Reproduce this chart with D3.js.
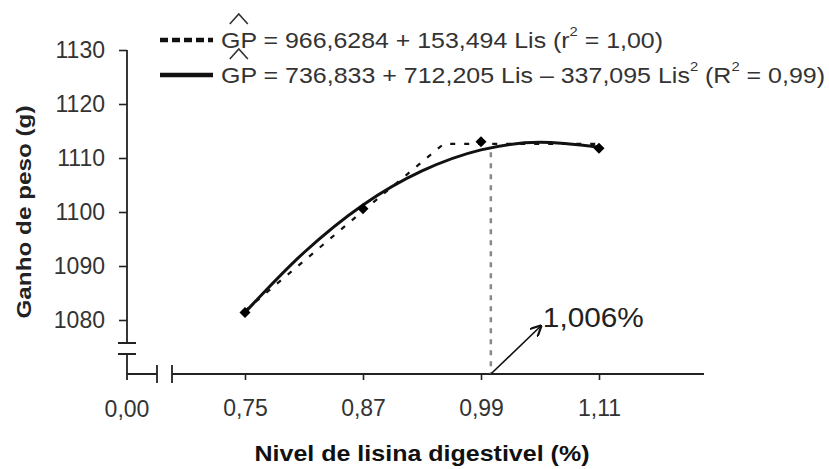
<!DOCTYPE html>
<html>
<head>
<meta charset="utf-8">
<script src="https://cdn.jsdelivr.net/npm/d3@7"></script>
<style>
  body { margin: 0; background: #fff; }
  svg { display: block; }
</style>
</head>
<body>
<svg id="chart" width="829" height="469"></svg>
<script>
// observed means
const lysineLevels = [0.75, 0.87, 0.99, 1.11]
const weightGain = [1081.4, 1100.6, 1113.0, 1111.8]

// fitted curves
const quadX = [0.75, 0.81, 0.87, 0.93, 0.99, 1.05, 1.11]
const quadY = [1081.4, 1092.5, 1101.3, 1107.6, 1111.5, 1112.9, 1112.0]
const lrpX = [0.75, 0.87, 0.952, 1.11]
const lrpY = [1081.7, 1100.2, 1112.6, 1112.6]

const yTicks = [1080, 1090, 1100, 1110, 1120, 1130]
const xTicks = [0.75, 0.87, 0.99, 1.11]
const optimumX = 1.0
const optimumLabel = "1,006%"

const font = "'Liberation Sans', Arial, sans-serif"
const svg = d3.select("#chart")

let x = d3.scaleLinear().domain([0.75, 1.11]).range([245, 599])
let y = d3.scaleLinear().domain([1080, 1130]).range([320, 50])
let x0 = 127, yBase = 374
let commaFmt = d => d3.format(".2f")(d).replace(".", ",")

// ---- y axis
let yAxis = svg.append("g")
  .attr("transform", `translate(${x0},0)`)
  .call(d3.axisLeft(y).tickValues(yTicks).tickSize(8).tickSizeOuter(0).tickFormat(d3.format("d")))
yAxis.select(".domain").remove()
yAxis.selectAll("line").attr("stroke", "#222").attr("stroke-width", 1.6)
yAxis.selectAll("text")
  .attr("x", -22)
  .attr("font-family", font).attr("font-size", 23).attr("fill", "#333")

let axisStroke = g => g.attr("stroke", "#222").attr("stroke-width", 1.8).attr("fill", "none")
let brk1 = y(1080) + 23, brk2 = y(1080) + 34
svg.append("path").call(axisStroke)
  .attr("d", `M${x0},${y(1130)}V${brk1}M${x0 - 9},${brk1}H${x0 + 9}M${x0 - 9},${brk2}H${x0 + 9}M${x0},${brk2}V${yBase}`)

// ---- x axis
let xAxis = svg.append("g")
  .attr("transform", `translate(0,${yBase})`)
  .call(d3.axisBottom(x).tickValues(xTicks).tickSize(6).tickSizeOuter(0).tickFormat(commaFmt))
xAxis.select(".domain").remove()
xAxis.selectAll("line").attr("stroke", "#222").attr("stroke-width", 1.6)
xAxis.selectAll("text")
  .attr("y", 26)
  .attr("font-family", font).attr("font-size", 23).attr("fill", "#333")

svg.append("path").call(axisStroke)
  .attr("d", `M${x0},${yBase}H157M157,${yBase - 9}V${yBase + 9}M172,${yBase - 9}V${yBase + 9}M172,${yBase}H704M${x0},${yBase}V${yBase + 6}`)
svg.append("text")
  .attr("x", x0).attr("y", yBase + 26 + 17)
  .attr("text-anchor", "middle")
  .attr("font-family", font).attr("font-size", 23).attr("fill", "#333")
  .text(commaFmt(0))

// ---- axis titles
svg.append("text")
  .attr("transform", "translate(31,212) rotate(-90)")
  .attr("text-anchor", "middle")
  .attr("font-family", font).attr("font-size", 21).attr("font-weight", "bold").attr("fill", "#222")
  .attr("textLength", 213).attr("lengthAdjust", "spacingAndGlyphs")
  .text("Ganho de peso (g)")

svg.append("text")
  .attr("x", 422).attr("y", 461)
  .attr("text-anchor", "middle")
  .attr("font-family", font).attr("font-size", 22).attr("font-weight", "bold").attr("fill", "#111")
  .attr("textLength", 335).attr("lengthAdjust", "spacingAndGlyphs")
  .text("Nivel de lisina digestivel (%)")

// ---- optimum marker
svg.append("line")
  .attr("x1", x(optimumX)).attr("x2", x(optimumX))
  .attr("y1", y(1112) + 5).attr("y2", yBase)
  .attr("stroke", "#888").attr("stroke-width", 2.5).attr("stroke-dasharray", "5,6")

svg.append("defs").append("marker")
  .attr("id", "arrow").attr("viewBox", "0 0 10 10").attr("refX", 9).attr("refY", 5)
  .attr("markerWidth", 7).attr("markerHeight", 7).attr("orient", "auto")
  .append("path").attr("d", "M0,0L10,5L0,10").attr("fill", "none").attr("stroke", "#111").attr("stroke-width", 2)

svg.append("line")
  .attr("x1", x(optimumX)).attr("y1", yBase)
  .attr("x2", x(optimumX) + 50).attr("y2", yBase - 48)
  .attr("stroke", "#111").attr("stroke-width", 1.6)
  .attr("marker-end", "url(#arrow)")

svg.append("text")
  .attr("x", x(optimumX) + 52).attr("y", yBase - 47)
  .attr("font-family", font).attr("font-size", 27).attr("fill", "#222")
  .attr("textLength", 101).attr("lengthAdjust", "spacingAndGlyphs")
  .text(optimumLabel)

// ---- fitted lines
let line = d3.line().x(d => x(d[0])).y(d => y(d[1]))

svg.append("path")
  .datum(d3.zip(lrpX, lrpY))
  .attr("d", line)
  .attr("fill", "none").attr("stroke", "#111").attr("stroke-width", 2.2)
  .attr("stroke-dasharray", "5,9")

svg.append("path")
  .datum(d3.zip(quadX, quadY))
  .attr("d", line.curve(d3.curveMonotoneX))
  .attr("fill", "none").attr("stroke", "#111").attr("stroke-width", 3)

svg.selectAll(".pt")
  .data(d3.zip(lysineLevels, weightGain))
  .enter().append("path")
  .attr("class", "pt")
  .attr("transform", d => `translate(${x(d[0])},${y(d[1])}) rotate(45)`)
  .attr("d", d3.symbol(d3.symbolSquare, 60))
  .attr("fill", "#000")

// ---- legend
let legend = [
  {dash: "8,4", y: 40, w: 442, parts: [["GP", 0], [" = 966,6284 + 153,494 Lis (r", 0], ["2", 1], [" = 1,00)", 0]]},
  {dash: null, y: 75, w: 604, parts: [["GP", 0], [" = 736,833 + 712,205 Lis \u2013 337,095 Lis", 0], ["2", 1], [" (R", 0], ["2", 1], [" = 0,99)", 0]]}
]
legend.forEach(item => {
  svg.append("line")
    .attr("x1", 160).attr("x2", 213).attr("y1", item.y).attr("y2", item.y)
    .attr("stroke", "#111").attr("stroke-width", 4.5)
    .attr("stroke-dasharray", item.dash)
  let t = svg.append("text")
    .attr("x", 221).attr("y", item.y + 8)
    .attr("font-family", font).attr("font-size", 22).attr("fill", "#333")
    .attr("textLength", item.w).attr("lengthAdjust", "spacingAndGlyphs")
  item.parts.forEach(p => {
    t.append("tspan")
      .attr("font-size", p[1] ? 13 : 22)
      .attr("baseline-shift", p[1] ? "90%" : null)
      .text(p[0])
  })
  // hat over GP
  let gp = t.select("tspan").node()
  let bb = gp.getBBox()
  let cx = bb.x + bb.width / 2
  svg.append("path")
    .attr("d", `M${cx - 9},${item.y - 16}L${cx},${item.y - 26}L${cx + 9},${item.y - 16}`)
    .attr("fill", "none").attr("stroke", "#333").attr("stroke-width", 1.6)
})
</script>
</body>
</html>
